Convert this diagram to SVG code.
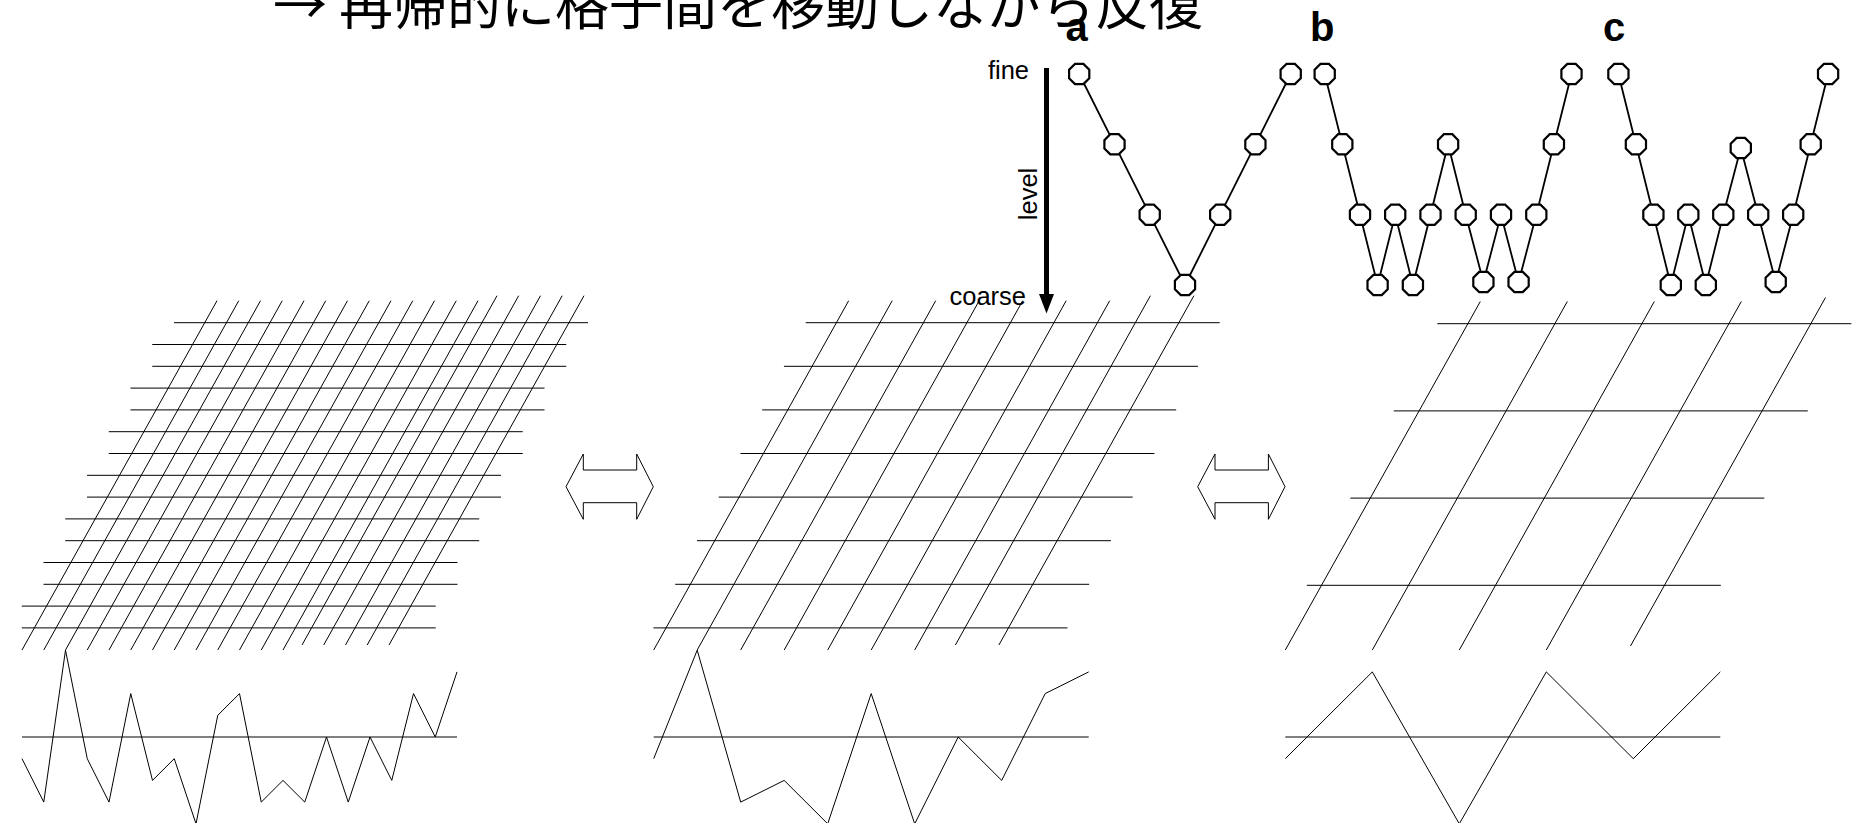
<svg xmlns="http://www.w3.org/2000/svg" xmlns:xlink="http://www.w3.org/1999/xlink" width="1861" height="823" viewBox="0 0 1861 823">
<style>
.ln{stroke:#000;stroke-width:1;fill:none}
.pl{stroke:#000;stroke-width:1;fill:none;stroke-linejoin:miter}
.dbl{fill:#fff;stroke:#000;stroke-width:1}
.nd{fill:#fff;stroke:#000;stroke-width:2.2}
.ed{stroke:#000;stroke-width:1.8;fill:none}
.lbl{font-family:"Liberation Sans",Arial,sans-serif;font-size:25.5px;fill:#000}
.pan{font-family:"Liberation Sans",Arial,sans-serif;font-size:40px;font-weight:bold;fill:#000}
.ttl{font-family:"Noto Sans CJK JP","Noto Sans CJK SC",sans-serif;font-size:54px;fill:#000}
</style>
<defs>
<polygon id="oct" points="10.1,4.2 4.2,10.1 -4.2,10.1 -10.1,4.2 -10.1,-4.2 -4.2,-10.1 4.2,-10.1 10.1,-4.2"/>
<path id="dblarrow" d="M566,486.7 L583.3,454 L583.3,470 L636.7,470 L636.7,454 L653.3,486.7 L636.7,519.3 L636.7,502.7 L583.3,502.7 L583.3,519.3 Z"/>
</defs>
<rect width="1861" height="823" fill="#fff"/>

<text class="ttl" x="273" y="25">→ 再帰的に格子間を移動しながら反復</text>

<!-- fine grid -->
<g id="grid-fine" class="ln">
<line x1="174" y1="322.7" x2="588" y2="322.7"/>
<line x1="152.25" y1="344.5" x2="566.25" y2="344.5"/>
<line x1="152.25" y1="366.3" x2="566.25" y2="366.3"/>
<line x1="130.5" y1="388.1" x2="544.5" y2="388.1"/>
<line x1="130.5" y1="409.9" x2="544.5" y2="409.9"/>
<line x1="108.75" y1="431.7" x2="522.75" y2="431.7"/>
<line x1="108.75" y1="453.5" x2="522.75" y2="453.5"/>
<line x1="87" y1="475.3" x2="501" y2="475.3"/>
<line x1="87" y1="497.1" x2="501" y2="497.1"/>
<line x1="65.25" y1="518.9" x2="479.25" y2="518.9"/>
<line x1="65.25" y1="540.7" x2="479.25" y2="540.7"/>
<line x1="43.5" y1="562.5" x2="457.5" y2="562.5"/>
<line x1="43.5" y1="584.3" x2="457.5" y2="584.3"/>
<line x1="21.75" y1="606.1" x2="435.75" y2="606.1"/>
<line x1="21.75" y1="627.9" x2="435.75" y2="627.9"/>
<line x1="22" y1="650" x2="217" y2="300.7"/>
<line x1="43.75" y1="650" x2="238.75" y2="300.7"/>
<line x1="65.5" y1="650" x2="260.5" y2="300.7"/>
<line x1="87.25" y1="650" x2="282.25" y2="300.7"/>
<line x1="109" y1="650" x2="304" y2="300.7"/>
<line x1="130.75" y1="650" x2="325.75" y2="300.7"/>
<line x1="152.5" y1="650" x2="347.5" y2="300.7"/>
<line x1="174.25" y1="650" x2="369.25" y2="300.7"/>
<line x1="196" y1="650" x2="391" y2="300.7"/>
<line x1="217.75" y1="650" x2="412.75" y2="300.7"/>
<line x1="239.5" y1="650" x2="434.5" y2="300.7"/>
<line x1="261.25" y1="650" x2="456.25" y2="300.7"/>
<line x1="283" y1="650" x2="478" y2="300.7"/>
<line x1="302" y1="645" x2="497" y2="295.7"/>
<line x1="323.7" y1="645" x2="518.7" y2="295.7"/>
<line x1="345.5" y1="645" x2="540.5" y2="295.7"/>
<line x1="367.2" y1="645" x2="562.2" y2="295.7"/>
<line x1="389" y1="645" x2="584" y2="295.7"/>
</g>
<g id="plot-fine">
<line class="ln" x1="22" y1="737" x2="457" y2="737"/>
<polyline class="pl" points="22,758.7 43.75,802.1 65.5,650.2 87.25,758.7 109,802.1 130.75,693.6 152.5,780.4 174.25,758.7 196,823.8 217.75,715.3 239.5,693.6 261.25,802.1 283,780.4 304.75,802.1 326.5,737 348.25,802.1 370,737 391.75,780.4 413.5,693.6 435.25,737 457,671.9"/>
</g>

<!-- medium grid -->
<g id="grid-medium" class="ln">
<line x1="805.7" y1="322.7" x2="1219.7" y2="322.7"/>
<line x1="783.95" y1="366.3" x2="1197.95" y2="366.3"/>
<line x1="762.2" y1="409.9" x2="1176.2" y2="409.9"/>
<line x1="740.45" y1="453.5" x2="1154.45" y2="453.5"/>
<line x1="718.7" y1="497.1" x2="1132.7" y2="497.1"/>
<line x1="696.95" y1="540.7" x2="1110.95" y2="540.7"/>
<line x1="675.2" y1="584.3" x2="1089.2" y2="584.3"/>
<line x1="653.45" y1="627.9" x2="1067.45" y2="627.9"/>
<line x1="653.7" y1="650" x2="848.7" y2="300.7"/>
<line x1="697.2" y1="650" x2="892.2" y2="300.7"/>
<line x1="740.7" y1="650" x2="935.7" y2="300.7"/>
<line x1="784.2" y1="650" x2="979.2" y2="300.7"/>
<line x1="827.7" y1="650" x2="1022.7" y2="300.7"/>
<line x1="871.2" y1="650" x2="1066.2" y2="300.7"/>
<line x1="914.7" y1="650" x2="1109.7" y2="300.7"/>
<line x1="955.4" y1="645" x2="1150.4" y2="295.7"/>
<line x1="998.9" y1="645" x2="1193.9" y2="295.7"/>
</g>
<g id="plot-medium">
<line class="ln" x1="653.7" y1="737" x2="1088.7" y2="737"/>
<polyline class="pl" points="653.7,758.7 697.2,650.2 740.7,802.1 784.2,780.4 827.7,823.8 871.2,693.6 914.7,823.8 958.2,737 1001.7,780.4 1045.2,693.6 1088.7,671.9"/>
</g>

<!-- coarse grid -->
<g id="grid-coarse" class="ln">
<line x1="1437.3" y1="323.7" x2="1851.3" y2="323.7"/>
<line x1="1393.8" y1="410.9" x2="1807.8" y2="410.9"/>
<line x1="1350.3" y1="498.1" x2="1764.3" y2="498.1"/>
<line x1="1306.8" y1="585.3" x2="1720.8" y2="585.3"/>
<line x1="1285.3" y1="650" x2="1480.3" y2="301.5"/>
<line x1="1372.3" y1="650" x2="1567.3" y2="301.5"/>
<line x1="1459.3" y1="650" x2="1654.3" y2="301.5"/>
<line x1="1546.3" y1="650" x2="1741.3" y2="301.5"/>
<line x1="1630.5" y1="646" x2="1825.5" y2="297.5"/>
</g>
<g id="plot-coarse">
<line class="ln" x1="1285.3" y1="737" x2="1720.3" y2="737"/>
<polyline class="pl" points="1285.3,758.7 1372.3,671.9 1459.3,823.8 1546.3,671.9 1633.3,758.7 1720.3,671.9"/>
</g>

<!-- double arrows -->
<g id="arrow-fine-medium"><use xlink:href="#dblarrow" href="#dblarrow" class="dbl"/></g>
<g id="arrow-medium-coarse"><use xlink:href="#dblarrow" href="#dblarrow" class="dbl" transform="translate(631.7,0)"/></g>

<!-- level axis -->
<g id="level-axis">
<line x1="1046.5" y1="68" x2="1046.5" y2="296" stroke="#000" stroke-width="5"/>
<polygon points="1039,294 1054,294 1046.5,313.5" fill="#000"/>
<text class="lbl" x="1029" y="79" text-anchor="end">fine</text>
<text class="lbl" x="1026" y="304.5" text-anchor="end">coarse</text>
<text class="lbl" text-anchor="middle" transform="translate(1037,194) rotate(-90)">level</text>
</g>

<text class="pan" x="1065.5" y="40.5">a</text>
<text class="pan" x="1310" y="40.5">b</text>
<text class="pan" x="1603" y="40.5">c</text>

<!-- connectors -->
<g id="connectors" class="ed">
<polyline points="1079.2,74 1114.5,144.3 1149.7,214.7 1185,285 1220.2,214.7 1255.4,144.3 1290.7,74"/>
<polyline points="1324.7,74 1342.3,144.3 1360,214.7 1377.6,285 1395.2,214.7 1412.9,285 1430.5,214.7 1448.1,144.3 1465.7,214.7 1483.4,282 1501,214.7 1518.6,282 1536.3,214.7 1553.9,144.3 1571.5,74"/>
<polyline points="1618.4,74 1635.9,144.3 1653.4,214.7 1670.8,285 1688.3,214.7 1705.8,285 1723.3,214.7 1740.8,148 1758.2,214.7 1775.7,282 1793.2,214.7 1810.7,144.3 1828.1,74"/>
</g>

<!-- nodes: V-cycle -->
<g id="a-n0"><use href="#oct" xlink:href="#oct" class="nd" x="1079.2" y="74"/></g>
<g id="a-n1"><use href="#oct" xlink:href="#oct" class="nd" x="1114.5" y="144.3"/></g>
<g id="a-n2"><use href="#oct" xlink:href="#oct" class="nd" x="1149.7" y="214.7"/></g>
<g id="a-n3"><use href="#oct" xlink:href="#oct" class="nd" x="1185" y="285"/></g>
<g id="a-n4"><use href="#oct" xlink:href="#oct" class="nd" x="1220.2" y="214.7"/></g>
<g id="a-n5"><use href="#oct" xlink:href="#oct" class="nd" x="1255.4" y="144.3"/></g>
<g id="a-n6"><use href="#oct" xlink:href="#oct" class="nd" x="1290.7" y="74"/></g>
<!-- nodes: W-cycle -->
<g id="b-n0"><use href="#oct" xlink:href="#oct" class="nd" x="1324.7" y="74"/></g>
<g id="b-n1"><use href="#oct" xlink:href="#oct" class="nd" x="1342.3" y="144.3"/></g>
<g id="b-n2"><use href="#oct" xlink:href="#oct" class="nd" x="1360" y="214.7"/></g>
<g id="b-n3"><use href="#oct" xlink:href="#oct" class="nd" x="1377.6" y="285"/></g>
<g id="b-n4"><use href="#oct" xlink:href="#oct" class="nd" x="1395.2" y="214.7"/></g>
<g id="b-n5"><use href="#oct" xlink:href="#oct" class="nd" x="1412.9" y="285"/></g>
<g id="b-n6"><use href="#oct" xlink:href="#oct" class="nd" x="1430.5" y="214.7"/></g>
<g id="b-n7"><use href="#oct" xlink:href="#oct" class="nd" x="1448.1" y="144.3"/></g>
<g id="b-n8"><use href="#oct" xlink:href="#oct" class="nd" x="1465.7" y="214.7"/></g>
<g id="b-n9"><use href="#oct" xlink:href="#oct" class="nd" x="1483.4" y="282"/></g>
<g id="b-n10"><use href="#oct" xlink:href="#oct" class="nd" x="1501" y="214.7"/></g>
<g id="b-n11"><use href="#oct" xlink:href="#oct" class="nd" x="1518.6" y="282"/></g>
<g id="b-n12"><use href="#oct" xlink:href="#oct" class="nd" x="1536.3" y="214.7"/></g>
<g id="b-n13"><use href="#oct" xlink:href="#oct" class="nd" x="1553.9" y="144.3"/></g>
<g id="b-n14"><use href="#oct" xlink:href="#oct" class="nd" x="1571.5" y="74"/></g>
<!-- nodes: F-cycle -->
<g id="c-n0"><use href="#oct" xlink:href="#oct" class="nd" x="1618.4" y="74"/></g>
<g id="c-n1"><use href="#oct" xlink:href="#oct" class="nd" x="1635.9" y="144.3"/></g>
<g id="c-n2"><use href="#oct" xlink:href="#oct" class="nd" x="1653.4" y="214.7"/></g>
<g id="c-n3"><use href="#oct" xlink:href="#oct" class="nd" x="1670.8" y="285"/></g>
<g id="c-n4"><use href="#oct" xlink:href="#oct" class="nd" x="1688.3" y="214.7"/></g>
<g id="c-n5"><use href="#oct" xlink:href="#oct" class="nd" x="1705.8" y="285"/></g>
<g id="c-n6"><use href="#oct" xlink:href="#oct" class="nd" x="1723.3" y="214.7"/></g>
<g id="c-n7"><use href="#oct" xlink:href="#oct" class="nd" x="1740.8" y="148"/></g>
<g id="c-n8"><use href="#oct" xlink:href="#oct" class="nd" x="1758.2" y="214.7"/></g>
<g id="c-n9"><use href="#oct" xlink:href="#oct" class="nd" x="1775.7" y="282"/></g>
<g id="c-n10"><use href="#oct" xlink:href="#oct" class="nd" x="1793.2" y="214.7"/></g>
<g id="c-n11"><use href="#oct" xlink:href="#oct" class="nd" x="1810.7" y="144.3"/></g>
<g id="c-n12"><use href="#oct" xlink:href="#oct" class="nd" x="1828.1" y="74"/></g>
</svg>
